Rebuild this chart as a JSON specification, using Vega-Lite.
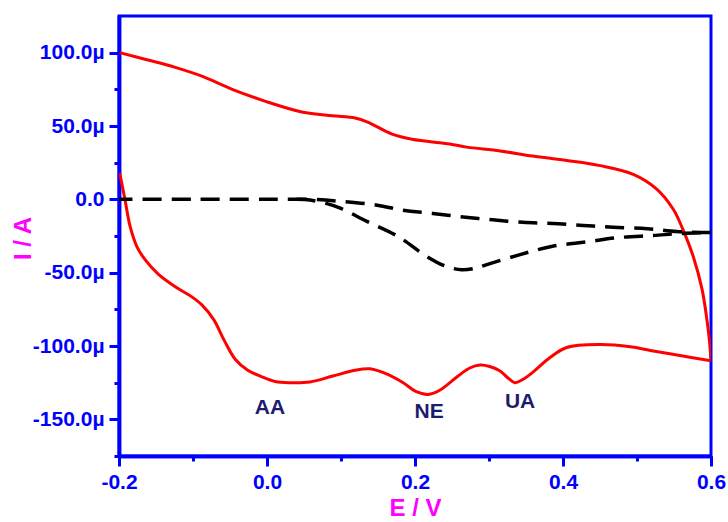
{
  "$schema": "https://vega.github.io/schema/vega-lite/v6.json",
  "width": 592,
  "height": 440,
  "autosize": {"type": "none"},
  "padding": {"left": 119, "top": 16, "right": 17, "bottom": 66},
  "background": "white",
  "config": {
    "view": {"stroke": "#0000ff", "strokeWidth": 3},
    "axis": {
      "domainColor": "#0000ff", "domainWidth": 3.5, "tickColor": "#0000ff", "tickWidth": 3,
      "labelColor": "#0000ff", "labelFont": "Liberation Sans", "labelFontWeight": "bold", "labelFontSize": 21,
      "titleColor": "#ff00ff", "titleFont": "Liberation Sans", "titleFontWeight": "bold", "titleFontSize": 24,
      "grid": false
    }
  },
  "datasets": {
    "cv": [
      {"b": "lower", "i": 0, "E": -0.199, "I": 18},
      {"b": "lower", "i": 1, "E": -0.192, "I": 0},
      {"b": "lower", "i": 2, "E": -0.185, "I": -18.5},
      {"b": "lower", "i": 3, "E": -0.176, "I": -32},
      {"b": "lower", "i": 4, "E": -0.165, "I": -41},
      {"b": "lower", "i": 5, "E": -0.147, "I": -51},
      {"b": "lower", "i": 6, "E": -0.124, "I": -59.6},
      {"b": "lower", "i": 7, "E": -0.103, "I": -66},
      {"b": "lower", "i": 8, "E": -0.088, "I": -72},
      {"b": "lower", "i": 9, "E": -0.072, "I": -82},
      {"b": "lower", "i": 10, "E": -0.058, "I": -96},
      {"b": "lower", "i": 11, "E": -0.043, "I": -109},
      {"b": "lower", "i": 12, "E": -0.026, "I": -116.5},
      {"b": "lower", "i": 13, "E": -0.007, "I": -121},
      {"b": "lower", "i": 14, "E": 0.011, "I": -124.2},
      {"b": "lower", "i": 15, "E": 0.031, "I": -125},
      {"b": "lower", "i": 16, "E": 0.058, "I": -124.5},
      {"b": "lower", "i": 17, "E": 0.089, "I": -120.5},
      {"b": "lower", "i": 18, "E": 0.119, "I": -116.5},
      {"b": "lower", "i": 19, "E": 0.139, "I": -115.5},
      {"b": "lower", "i": 20, "E": 0.159, "I": -118.5},
      {"b": "lower", "i": 21, "E": 0.184, "I": -125},
      {"b": "lower", "i": 22, "E": 0.201, "I": -131},
      {"b": "lower", "i": 23, "E": 0.218, "I": -133},
      {"b": "lower", "i": 24, "E": 0.234, "I": -130},
      {"b": "lower", "i": 25, "E": 0.257, "I": -121},
      {"b": "lower", "i": 26, "E": 0.274, "I": -115},
      {"b": "lower", "i": 27, "E": 0.288, "I": -113},
      {"b": "lower", "i": 28, "E": 0.301, "I": -114},
      {"b": "lower", "i": 29, "E": 0.315, "I": -117},
      {"b": "lower", "i": 30, "E": 0.326, "I": -122},
      {"b": "lower", "i": 31, "E": 0.335, "I": -125},
      {"b": "lower", "i": 32, "E": 0.345, "I": -123},
      {"b": "lower", "i": 33, "E": 0.359, "I": -118},
      {"b": "lower", "i": 34, "E": 0.382, "I": -108},
      {"b": "lower", "i": 35, "E": 0.405, "I": -101},
      {"b": "lower", "i": 36, "E": 0.45, "I": -99},
      {"b": "lower", "i": 37, "E": 0.491, "I": -100.5},
      {"b": "lower", "i": 38, "E": 0.518, "I": -103},
      {"b": "lower", "i": 39, "E": 0.558, "I": -106.5},
      {"b": "lower", "i": 40, "E": 0.6, "I": -110},
      {"b": "upper", "i": 41, "E": 0.6, "I": -110},
      {"b": "upper", "i": 42, "E": 0.598, "I": -97},
      {"b": "upper", "i": 43, "E": 0.595, "I": -84},
      {"b": "upper", "i": 44, "E": 0.588, "I": -61.6},
      {"b": "upper", "i": 45, "E": 0.576, "I": -39},
      {"b": "upper", "i": 46, "E": 0.562, "I": -20.5},
      {"b": "upper", "i": 47, "E": 0.549, "I": -6.8},
      {"b": "upper", "i": 48, "E": 0.527, "I": 6.8},
      {"b": "upper", "i": 49, "E": 0.495, "I": 17},
      {"b": "upper", "i": 50, "E": 0.45, "I": 23},
      {"b": "upper", "i": 51, "E": 0.405, "I": 26.5},
      {"b": "upper", "i": 52, "E": 0.359, "I": 29.5},
      {"b": "upper", "i": 53, "E": 0.315, "I": 33},
      {"b": "upper", "i": 54, "E": 0.27, "I": 35.6},
      {"b": "upper", "i": 55, "E": 0.247, "I": 37.7},
      {"b": "upper", "i": 56, "E": 0.196, "I": 41},
      {"b": "upper", "i": 57, "E": 0.169, "I": 44.5},
      {"b": "upper", "i": 58, "E": 0.136, "I": 52.7},
      {"b": "upper", "i": 59, "E": 0.119, "I": 55.5},
      {"b": "upper", "i": 60, "E": 0.088, "I": 57},
      {"b": "upper", "i": 61, "E": 0.047, "I": 59.6},
      {"b": "upper", "i": 62, "E": -0.003, "I": 67},
      {"b": "upper", "i": 63, "E": -0.047, "I": 75},
      {"b": "upper", "i": 64, "E": -0.088, "I": 84},
      {"b": "upper", "i": 65, "E": -0.124, "I": 90},
      {"b": "upper", "i": 66, "E": -0.161, "I": 95},
      {"b": "upper", "i": 67, "E": -0.199, "I": 100}
    ],
    "blank": [
      {"b": "dip", "i": 0, "E": 0.04, "I": 0},
      {"b": "dip", "i": 1, "E": 0.058, "I": -0.5},
      {"b": "dip", "i": 2, "E": 0.078, "I": -2.5},
      {"b": "dip", "i": 3, "E": 0.099, "I": -6},
      {"b": "dip", "i": 4, "E": 0.135, "I": -15},
      {"b": "dip", "i": 5, "E": 0.176, "I": -25},
      {"b": "dip", "i": 6, "E": 0.216, "I": -39},
      {"b": "dip", "i": 7, "E": 0.241, "I": -45.5},
      {"b": "dip", "i": 8, "E": 0.263, "I": -48},
      {"b": "dip", "i": 9, "E": 0.281, "I": -47},
      {"b": "dip", "i": 10, "E": 0.297, "I": -44.5},
      {"b": "dip", "i": 11, "E": 0.342, "I": -37.7},
      {"b": "dip", "i": 12, "E": 0.386, "I": -32},
      {"b": "dip", "i": 13, "E": 0.432, "I": -29},
      {"b": "dip", "i": 14, "E": 0.477, "I": -26},
      {"b": "dip", "i": 15, "E": 0.522, "I": -24.7},
      {"b": "dip", "i": 16, "E": 0.558, "I": -23.3},
      {"b": "dip", "i": 17, "E": 0.6, "I": -22.6},
      {"b": "ret", "i": 18, "E": 0.6, "I": -22.6},
      {"b": "ret", "i": 19, "E": 0.554, "I": -22},
      {"b": "ret", "i": 20, "E": 0.514, "I": -20},
      {"b": "ret", "i": 21, "E": 0.468, "I": -19},
      {"b": "ret", "i": 22, "E": 0.427, "I": -17.8},
      {"b": "ret", "i": 23, "E": 0.386, "I": -16.4},
      {"b": "ret", "i": 24, "E": 0.346, "I": -15.7},
      {"b": "ret", "i": 25, "E": 0.305, "I": -14},
      {"b": "ret", "i": 26, "E": 0.265, "I": -12},
      {"b": "ret", "i": 27, "E": 0.224, "I": -9.6},
      {"b": "ret", "i": 28, "E": 0.184, "I": -7.5},
      {"b": "ret", "i": 29, "E": 0.149, "I": -4},
      {"b": "ret", "i": 30, "E": 0.103, "I": -1.5},
      {"b": "ret", "i": 31, "E": 0.058, "I": 0},
      {"b": "ret", "i": 32, "E": 0.0, "I": 0},
      {"b": "ret", "i": 33, "E": -0.1, "I": 0},
      {"b": "ret", "i": 34, "E": -0.2, "I": 0}
    ],
    "peaks": [
      {"E": 0.004, "I": -142, "label": "AA"},
      {"E": 0.219, "I": -145, "label": "NE"},
      {"E": 0.342, "I": -138, "label": "UA"}
    ]
  },
  "layer": [
    {
      "data": {"name": "cv"},
      "mark": {"type": "line", "color": "#ff0000", "strokeWidth": 3, "interpolate": "catmull-rom", "clip": true},
      "encoding": {
        "x": {"field": "E", "type": "quantitative",
          "scale": {"domain": [-0.2, 0.6], "nice": false, "zero": false},
          "axis": {"orient": "bottom", "values": [-0.2, -0.1, 0, 0.1, 0.2, 0.3, 0.4, 0.5, 0.6], "tickSize": 5, "labels": false, "title": null}},
        "y": {"field": "I", "type": "quantitative",
          "scale": {"domain": [-175, 125], "nice": false, "zero": false},
          "axis": {"orient": "left", "values": [-175, -150, -125, -100, -75, -50, -25, 0, 25, 50, 75, 100], "tickSize": 5, "labels": false, "title": null}},
        "detail": {"field": "b"},
        "order": {"field": "i", "type": "quantitative"}
      }
    },
    {
      "data": {"name": "blank"},
      "mark": {"type": "line", "color": "#000000", "strokeWidth": 3.5, "strokeDash": [19, 10], "interpolate": "catmull-rom", "clip": true},
      "encoding": {
        "x": {"field": "E", "type": "quantitative",
          "axis": {"orient": "bottom", "values": [-0.2, 0, 0.2, 0.4, 0.6], "tickSize": 10, "labelPadding": 5,
            "labelExpr": "(datum.value < 0 ? '-' : '') + format(abs(datum.value), '.1f')",
            "title": "E / V", "titleX": 296, "titleY": 52, "titleBaseline": "middle", "titleAlign": "center", "labelFlush": false, "labelOverlap": false}},
        "y": {"field": "I", "type": "quantitative",
          "axis": {"orient": "left", "values": [-150, -100, -50, 0, 50, 100], "tickSize": 10, "labelPadding": 5,
            "labelExpr": "datum.value == 0 ? '0.0' : (datum.value < 0 ? '-' : '') + format(abs(datum.value), '.1f') + 'µ'",
            "title": "I / A", "titleX": -96, "titleY": 222, "titleAngle": -90, "titleBaseline": "middle", "titleAlign": "center", "labelOverlap": false}},
        "detail": {"field": "b"},
        "order": {"field": "i", "type": "quantitative"}
      }
    },
    {
      "data": {"name": "peaks"},
      "mark": {"type": "text", "color": "#1c1c6e", "font": "Liberation Sans", "fontWeight": "bold", "fontSize": 21, "align": "center", "baseline": "middle"},
      "encoding": {
        "x": {"field": "E", "type": "quantitative", "axis": null},
        "y": {"field": "I", "type": "quantitative", "axis": null},
        "text": {"field": "label"}
      }
    }
  ],
  "resolve": {"axis": {"x": "independent", "y": "independent"}}
}
